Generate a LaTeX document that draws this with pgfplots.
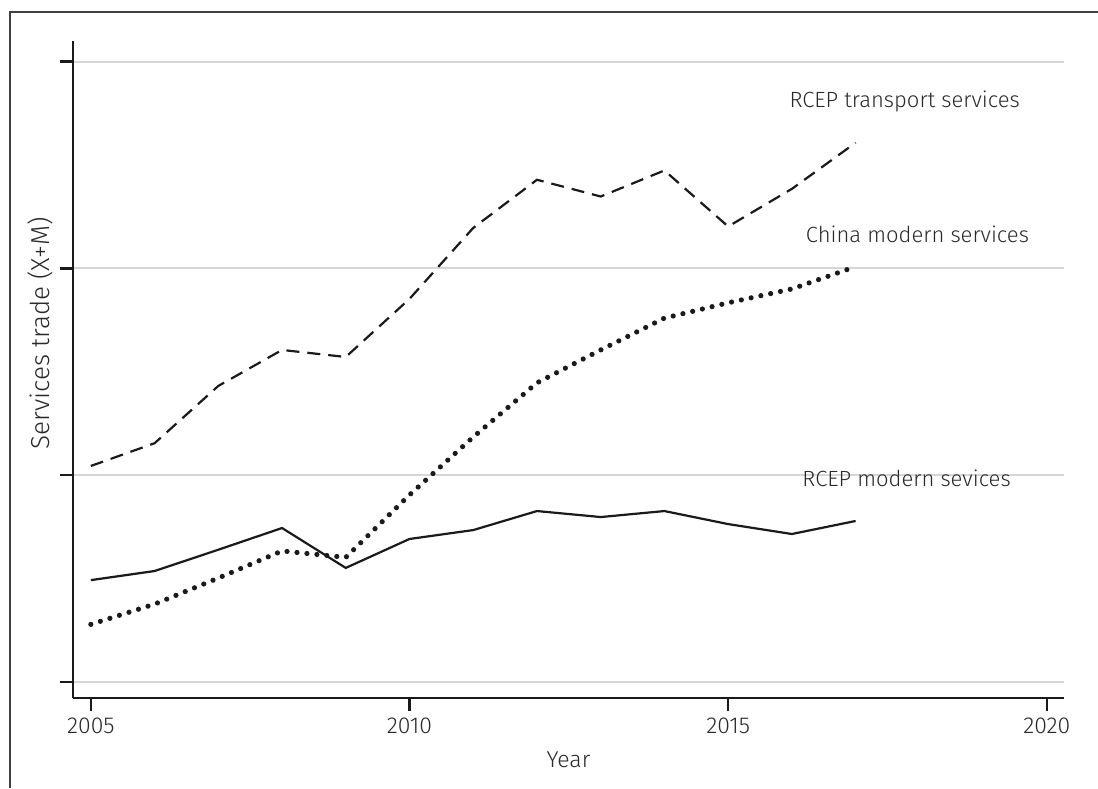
\documentclass[border=0pt]{standalone}
\usepackage{fontspec}
\setmainfont{Fira Sans}[UprightFont=* Light]
\usepackage{pgfplots}
\pgfplotsset{compat=1.18}
\definecolor{txt}{HTML}{2A2A2A}
\definecolor{ln}{HTML}{1A1A1A}
\definecolor{gridc}{HTML}{D6D6D6}

\pgfplotstableread{
year val
2005 0.493
2006 0.537
2007 0.640
2008 0.745
2009 0.552
2010 0.692
2011 0.735
2012 0.827
2013 0.798
2014 0.827
2015 0.764
2016 0.716
2017 0.779
}\rcepmodern

\pgfplotstableread{
year val
2005 1.045
2006 1.155
2007 1.432
2008 1.606
2009 1.572
2010 1.853
2011 2.196
2012 2.429
2013 2.348
2014 2.474
2015 2.203
2016 2.385
2017 2.608
}\rceptransport

\pgfplotstableread{
year val
2005 0.279
2006 0.377
2007 0.503
2008 0.634
2009 0.603
2010 0.905
2011 1.185
2012 1.447
2013 1.606
2014 1.760
2015 1.834
2016 1.901
2017 2.009
}\chinamodern

\begin{document}
\begin{tikzpicture}[x=1pt,y=1pt]
\path[use as bounding box] (0,0) rectangle (549,394);
\draw[line width=0.8pt, color=black!75] (5,0) -- (5,388) -- (549,388);
\begin{axis}[
  at={(36.5pt,45pt)}, anchor=south west,
  scale only axis, width=495.5pt, height=328.5pt,
  xmin=2004.72, xmax=2020.27, ymin=-0.077, ymax=3.10,
  axis lines*=left,
  axis line style={line width=1.2pt, ln},
  xtick={2005,2010,2015,2020},
  ytick={0,1,2,3}, yticklabels={},
  tick style={line width=1.2pt, ln},
  tick align=outside, major tick length=6.5pt,
  ymajorgrids, grid style={line width=1pt, gridc},
  xticklabel style={font=\fontsize{11.5}{13}\selectfont, text=txt, /pgf/number format/1000 sep={}},
  /pgf/number format/assume math mode=true,
  xlabel={Year}, ylabel={Services trade (X+M)},
  xlabel style={at={(axis description cs:0.5,-0.0944)}, anchor=center, font=\fontsize{11.5}{13}\selectfont, text=txt},
  ylabel style={at={(axis description cs:-0.0333,0.555)}, anchor=center, rotate=0, font=\fontsize{13}{15}\selectfont, text=txt},
  clip=false,
]
\addplot[ln, line width=1.1pt] table[x=year,y=val] {\rcepmodern};
\addplot[ln, line width=1.1pt, dash pattern=on 6.5pt off 4pt] table[x=year,y=val] {\rceptransport};
\addplot[ln, line width=2.6pt, line cap=round, dash pattern=on 0pt off 5pt] table[x=year,y=val] {\chinamodern};
\node[text=txt, font=\fontsize{11}{13}\selectfont] at (axis cs:2017.77,2.806) {RCEP transport services};
\node[text=txt, font=\fontsize{11}{13}\selectfont] at (axis cs:2017.97,2.163) {China modern services};
\node[text=txt, font=\fontsize{11}{13}\selectfont] at (axis cs:2017.80,0.987) {RCEP modern sevices};
\end{axis}
\end{tikzpicture}
\end{document}
